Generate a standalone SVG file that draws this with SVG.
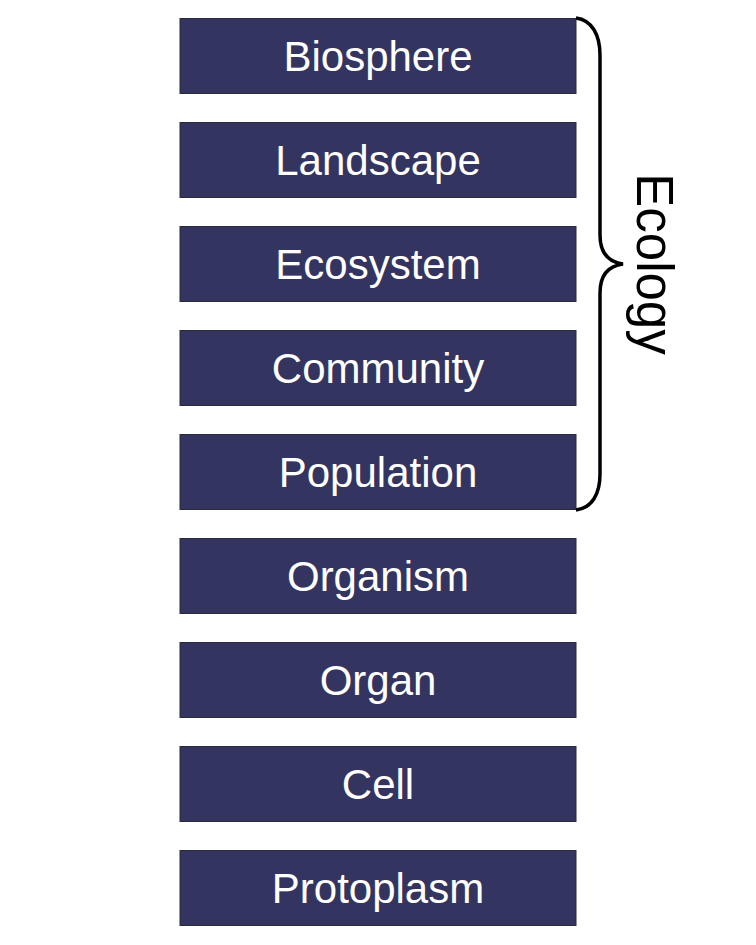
<svg xmlns="http://www.w3.org/2000/svg" width="756" height="945" viewBox="0 0 756 945">
<style>
.box{fill:#343461;stroke:#2a2a3a;stroke-width:1}
.lbl{font-family:"Liberation Sans",Arial,sans-serif;font-size:42px;fill:#ffffff;text-anchor:middle}
.brace{fill:none;stroke:#000;stroke-width:3.5}
</style>
<rect width="756" height="945" fill="#fff"/>
<g id="biosphere"><rect class="box" x="180" y="18.5" width="396" height="75"/><text class="lbl" x="378" y="71">Biosphere</text></g>
<g id="landscape"><rect class="box" x="180" y="122.5" width="396" height="75"/><text class="lbl" x="378" y="175">Landscape</text></g>
<g id="ecosystem"><rect class="box" x="180" y="226.5" width="396" height="75"/><text class="lbl" x="378" y="279">Ecosystem</text></g>
<g id="community"><rect class="box" x="180" y="330.5" width="396" height="75"/><text class="lbl" x="378" y="383">Community</text></g>
<g id="population"><rect class="box" x="180" y="434.5" width="396" height="75"/><text class="lbl" x="378" y="487">Population</text></g>
<g id="organism"><rect class="box" x="180" y="538.5" width="396" height="75"/><text class="lbl" x="378" y="591">Organism</text></g>
<g id="organ"><rect class="box" x="180" y="642.5" width="396" height="75"/><text class="lbl" x="378" y="695">Organ</text></g>
<g id="cell"><rect class="box" x="180" y="746.5" width="396" height="75"/><text class="lbl" x="378" y="799">Cell</text></g>
<g id="protoplasm"><rect class="box" x="180" y="850.5" width="396" height="75"/><text class="lbl" x="378" y="903">Protoplasm</text></g>
<g id="connectors">
<path class="brace" d="M576,18 C592,20 600,35 600,55 L600,235 C600,252 608,262 623,264 C608,266 600,276 600,293 L600,474 C600,494 592,508 576,510"/>
</g>
<g id="ecology"><text font-family="Liberation Sans,Arial,sans-serif" font-size="51" fill="#000" text-anchor="middle" transform="translate(637,264) rotate(90)">Ecology</text></g>
</svg>
